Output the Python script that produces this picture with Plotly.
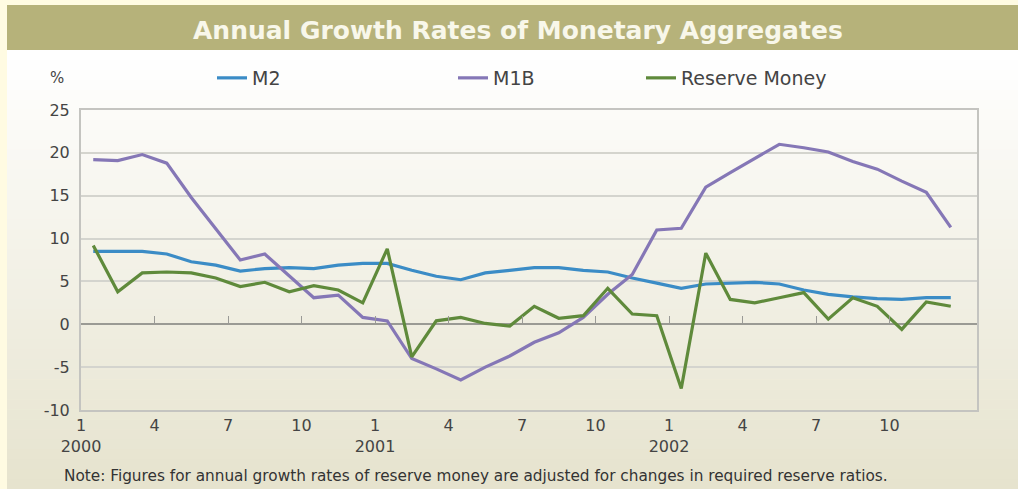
import plotly.graph_objects as go

# ---------------- data ----------------
months = [f"{y}-{m:02d}" for y in (2000, 2001, 2002) for m in range(1, 13)]

m2 = [8.5, 8.5, 8.5, 8.2, 7.3, 6.9, 6.2, 6.5, 6.6, 6.5, 6.9, 7.1,
      7.1, 6.3, 5.6, 5.2, 6.0, 6.3, 6.6, 6.6, 6.3, 6.1, 5.4, 4.8,
      4.2, 4.7, 4.8, 4.9, 4.7, 4.0, 3.5, 3.2, 3.0, 2.9, 3.1, 3.1]

m1b = [19.2, 19.1, 19.8, 18.8, 14.8, 11.2, 7.5, 8.2, 5.6, 3.1, 3.4, 0.8,
       0.4, -4.0, -5.2, -6.5, -5.0, -3.7, -2.1, -1.0, 0.8, 3.5, 5.8, 11.0,
       11.2, 16.0, 17.7, 19.3, 21.0, 20.6, 20.1, 19.0, 18.1, 16.7, 15.4, 11.3]

reserve = [9.2, 3.8, 6.0, 6.1, 6.0, 5.4, 4.4, 4.9, 3.8, 4.5, 4.0, 2.5,
           8.8, -3.8, 0.4, 0.8, 0.1, -0.2, 2.1, 0.7, 1.0, 4.2, 1.2, 1.0,
           -7.5, 8.3, 2.9, 2.5, 3.1, 3.7, 0.6, 3.1, 2.1, -0.6, 2.6, 2.1]

tick_labels = ["1<br>2000", "4", "7", "10", "1<br>2001", "4", "7", "10",
               "1<br>2002", "4", "7", "10"]
y_ticks = [-10, -5, 0, 5, 10, 15, 20, 25]
y_tick_labels = ["-10", "-5", "0", "5", "10", "15", "20", "25"]

TITLE = "Annual Growth Rates of Monetary Aggregates"
NOTE = ("Note: Figures for annual growth rates of reserve money are adjusted "
        "for changes in required reserve ratios.")

# ---------------- styling ----------------
W, H = 1018, 489
ML, MR, MT, MB = 81, 41, 110, 79
PW, PH = W - ML - MR, H - MT - MB


def px_x(p):
    return (p - ML) / PW


def px_y(p):
    return (H - MB - p) / PH


C_M2 = "#3b8cc6"
C_M1B = "#8577b6"
C_RES = "#5f8a3b"
FONT = "DejaVu Sans"

x_idx = list(range(len(months)))
tickvals = [i - 0.5 for i in range(0, len(months), 3)]
x_range = [-0.5, 36.07]

fig = go.Figure()

fig.add_trace(go.Scatter(x=x_idx, y=m2, name="M2", mode="lines",
                         line=dict(color=C_M2, width=3.2), legend="legend"))
fig.add_trace(go.Scatter(x=x_idx, y=m1b, name="M1B", mode="lines",
                         line=dict(color=C_M1B, width=3.2), legend="legend2"))
fig.add_trace(go.Scatter(x=x_idx, y=reserve, name="Reserve Money", mode="lines",
                         line=dict(color=C_RES, width=3.2), legend="legend3",
                         xaxis="x2"))

# background gradient bands (decoration)
shapes = []
N = 44
top, bot = 50, 489
c0 = (255, 255, 255)
c1 = (230, 227, 206)
for k in range(N):
    t = k / (N - 1)
    col = tuple(int(round(c0[j] + (c1[j] - c0[j]) * t)) for j in range(3))
    ya = top + (bot - top) * k / N
    yb = top + (bot - top) * (k + 1) / N + 0.6
    shapes.append(dict(type="rect", xref="paper", yref="paper", layer="below",
                       x0=px_x(7), x1=px_x(W + 2), y0=px_y(yb), y1=px_y(ya),
                       fillcolor="rgb(%d,%d,%d)" % col, line=dict(width=0)))
# title bar
shapes.append(dict(type="rect", xref="paper", yref="paper", layer="below",
                   x0=px_x(7), x1=px_x(W + 2), y0=px_y(50), y1=px_y(5),
                   fillcolor="#b6b27a", line=dict(width=0)))

annotations = [
    dict(text="<b>" + TITLE + "</b>", xref="paper", yref="paper",
         x=px_x(518), y=px_y(30), xanchor="center", yanchor="middle",
         showarrow=False, font=dict(family=FONT, size=25, color="#f8f7ea")),
    dict(text="%", xref="paper", yref="paper", x=px_x(57), y=px_y(78),
         xanchor="center", yanchor="middle", showarrow=False,
         font=dict(family=FONT, size=15, color="#444444")),
    dict(text=NOTE, xref="paper", yref="paper", x=px_x(62), y=px_y(476),
         xanchor="left", yanchor="middle", showarrow=False,
         font=dict(family=FONT, size=15.3, color="#333333")),
]

leg_common = dict(orientation="h", yanchor="middle", y=px_y(78),
                  xanchor="left", bgcolor="rgba(0,0,0,0)", itemwidth=30,
                  font=dict(family=FONT, size=19, color="#444444"))

fig.update_layout(
    width=W, height=H,
    margin=dict(l=ML, r=MR, t=MT, b=MB),
    paper_bgcolor="#fffbe2",
    plot_bgcolor="rgba(0,0,0,0)",
    showlegend=True,
    legend=dict(x=px_x(212), **leg_common),
    legend2=dict(x=px_x(453), **leg_common),
    legend3=dict(x=px_x(641), **leg_common),
    shapes=shapes,
    annotations=annotations,
    xaxis=dict(range=x_range, tickmode="array", tickvals=tickvals,
               ticktext=tick_labels, showgrid=False, zeroline=False,
               showline=True, mirror=True, linecolor="#c4c4c0", linewidth=2,
               ticks="", tickfont=dict(family=FONT, size=16, color="#444444")),
    xaxis2=dict(range=x_range, overlaying="x", anchor="free",
                position=(0 - y_ticks[0]) / (y_ticks[-1] - y_ticks[0]),
                side="bottom", tickmode="array", tickvals=tickvals,
                showticklabels=False, ticks="inside", ticklen=8,
                tickcolor="#9a9a96", tickwidth=1, showgrid=False,
                zeroline=False, showline=False),
    yaxis=dict(range=[y_ticks[0], y_ticks[-1]], tickmode="array",
               tickvals=y_ticks, ticktext=y_tick_labels, showgrid=True,
               gridcolor="#d4d4ce", gridwidth=1.5, zeroline=True,
               zerolinecolor="#9a9a94", zerolinewidth=1.5, showline=True,
               mirror=True, linecolor="#c4c4c0", linewidth=2, ticks="",
               ticklabelstandoff=6,
               tickfont=dict(family=FONT, size=16, color="#444444")),
)

fig.write_html("out.html")
